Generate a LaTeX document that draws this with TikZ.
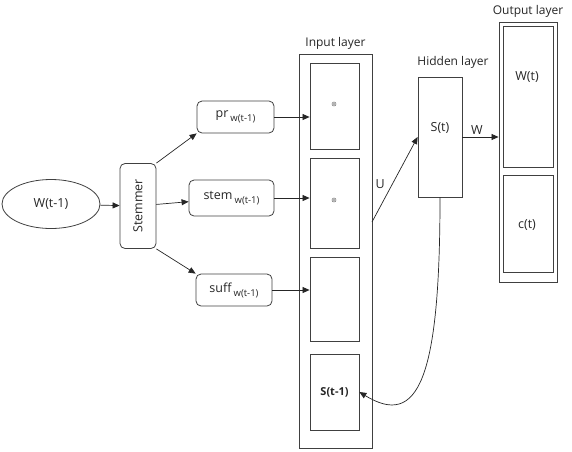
\documentclass[tikz,border=0pt]{standalone}
\usepackage{fontspec}
\setmainfont{Open Sans}
\usetikzlibrary{shapes.geometric,arrows.meta}
\tikzstyle{layerbox} = [draw=black!75, rectangle, line width=0.9pt, inner sep=0pt]
\tikzstyle{cellbox} = [draw=black!75, rectangle, line width=0.8pt, inner sep=0pt]
\tikzstyle{wordbox} = [draw=black!75, rectangle, rounded corners=5pt, line width=0.8pt, inner sep=0pt]
\tikzstyle{conn} = [draw=black!85, line width=0.7pt, -{Triangle[length=7pt,width=6pt]}]
\tikzstyle{title} = [font=\fontsize{12}{14}\selectfont, text=black!85]
\newcommand{\wsub}{\,\raisebox{-0.6ex}{\fontsize{9.5}{10}\selectfont w(t-1)}}

\begin{document}
\begin{tikzpicture}[x=1pt,y=-1pt,font=\fontsize{12.5}{14}\selectfont, text=black!85]
                \useasboundingbox (0,0) rectangle (572,451);
                \node [draw=black!75, line width=0.8pt, ellipse, minimum width=98pt, minimum height=49pt, inner sep=0pt] (word) at (51,204) {W(t-1)};
                \node [wordbox, minimum width=36pt, minimum height=85pt] (stemmer) at (138,206) {\rotatebox{90}{Stemmer}};
                \node [wordbox, minimum width=77pt, minimum height=32pt] (pr) at (235.5,117) {pr\wsub};
                \node [wordbox, minimum width=85pt, minimum height=36pt] (stem) at (231.5,198) {stem\wsub};
                \node [wordbox, minimum width=76pt, minimum height=32pt] (suff) at (234,290) {suff\wsub};
                % input layer
                \node [layerbox, minimum width=73pt, minimum height=394pt] (inlayer) at (335.5,251) {};
                \node [cellbox, minimum width=49pt, minimum height=86pt] (in1) at (334.5,106) {};
                \node [cellbox, minimum width=49pt, minimum height=90pt] (in2) at (334.5,203) {};
                \node [cellbox, minimum width=49pt, minimum height=84pt] (in3) at (334.5,299) {};
                \node [cellbox, minimum width=49pt, minimum height=76pt, font=\fontsize{11}{13}\selectfont\bfseries] (in4) at (334.5,392) {S(t-1)};
                \node [title, above=1pt] (intitle) at (inlayer.north) {Input layer};
                \foreach \c in {(334,104),(334,200)} {
                    \draw [black!60, line width=0.5pt] \c circle (2pt);
                    \fill [black!60] \c circle (0.9pt);
                }
                % hidden layer
                \node [cellbox, minimum width=44pt, minimum height=120pt] (hidden) at (440,137) {};
                \node at (440,128) (st) {S(t)};
                \node [title] (hidtitle) at (453,62) {Hidden layer};
                % output layer
                \node [layerbox, minimum width=58pt, minimum height=260pt] (outlayer) at (528,152) {};
                \node [cellbox, minimum width=50pt, minimum height=141pt] (out1) at (528,96.5) {};
                \node [cellbox, minimum width=50pt, minimum height=97pt] (out2) at (528,223.5) {};
                \node at (527,225) (ct) {c(t)};
                \node at (527,77) (wt) {W(t)};
                \node [title, above=1pt] (outtitle) at (outlayer.north) {Output layer};
                \coordinate (uout) at (372,222);

                \draw [conn] (word) -- (stemmer);
                \draw [conn] (stemmer.north east) -- (pr.south west);
                \draw [conn] (stemmer) -- (stem);
                \draw [conn] (stemmer.south east) -- (suff.north west);
                \draw [conn] (pr.east) -- (pr.east -| in1.west);
                \draw [conn] (stem.east) -- (stem.east -| in2.west);
                \draw [conn] (suff.east) -- (suff.east -| in3.west);
                \draw [conn] (uout) -- node [left=4pt, pos=0.45] {U} (hidden.west);
                \draw [conn] (hidden.east) -- node [above=-1pt, pos=0.4] {W} (hidden.east -| outlayer.west);
                \draw [conn] (hidden.south) .. controls (440,380) and (418,428) .. (in4.east);
            \end{tikzpicture}
\end{document}
